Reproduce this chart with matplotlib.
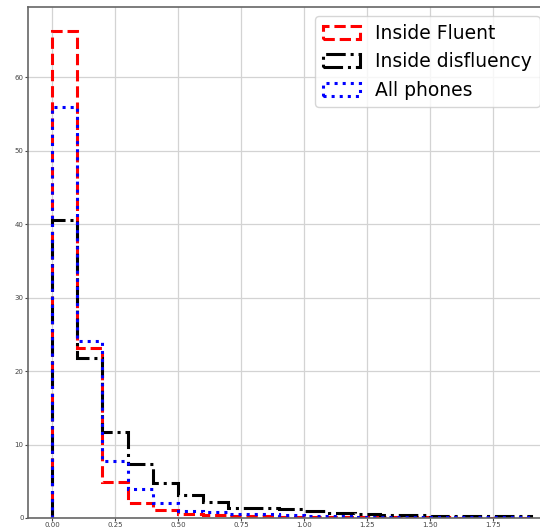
import numpy as np
import matplotlib.pyplot as plt

# bin edges of the duration histogram (seconds)
bin_edges = [round(0.1 * i, 1) for i in range(20)]

# density per bin
inside_fluent = [66.3, 23.2, 4.9, 2.1, 1.1, 0.6, 0.4, 0.3, 0.25, 0.2,
                 0.15, 0.12, 0.1, 0.1, 0.08, 0.08, 0.06, 0.05, 0.05]
inside_disfluency = [40.6, 21.8, 11.7, 7.4, 4.8, 3.2, 2.2, 1.4, 1.3, 1.2,
                     1.0, 0.7, 0.5, 0.4, 0.35, 0.3, 0.3, 0.3, 0.25]
all_phones = [56.0, 24.1, 7.8, 4.0, 2.1, 1.0, 0.8, 0.6, 0.5, 0.4,
              0.3, 0.25, 0.2, 0.2, 0.15, 0.15, 0.12, 0.1, 0.1]

labels = ["Inside Fluent", "Inside disfluency", "All phones"]
colors = ["red", "black", "blue"]
styles = ["--", "-.", ":"]

centers = np.array(bin_edges[:-1]) + 0.05

fig = plt.figure(figsize=(5.4, 5.29), dpi=100)
ax = fig.add_axes([28 / 540, 11 / 529, 527 / 540, 511 / 529])

for vals, lab, col, ls in zip([inside_fluent, inside_disfluency, all_phones], labels, colors, styles):
    ax.hist(centers, bins=bin_edges, weights=vals, histtype="step",
            color=col, linestyle=ls, linewidth=2.2, label=lab)

ax.set_xlim(-0.095, 1.995)
ax.set_ylim(0, 69.6)
ax.set_xticks([0, 0.25, 0.5, 0.75, 1.0, 1.25, 1.5, 1.75])
ax.set_yticks([0, 10, 20, 30, 40, 50, 60])
ax.set_xticklabels(["0.00", "0.25", "0.50", "0.75", "1.00", "1.25", "1.50", "1.75"])
ax.grid(True, color="#d3d3d3", linewidth=0.9)
ax.set_axisbelow(True)
ax.tick_params(labelsize=5, colors="#444444", length=2, width=0.8, pad=1.2)
for s in ax.spines.values():
    s.set_color("#666666")
    s.set_linewidth(1.2)

ax.legend(loc="upper right", bbox_to_anchor=(0.9886, 1.0), fontsize=13.5,
          handlelength=2.0, framealpha=0.8, edgecolor="#cccccc")

plt.savefig("out.png", dpi=100)
